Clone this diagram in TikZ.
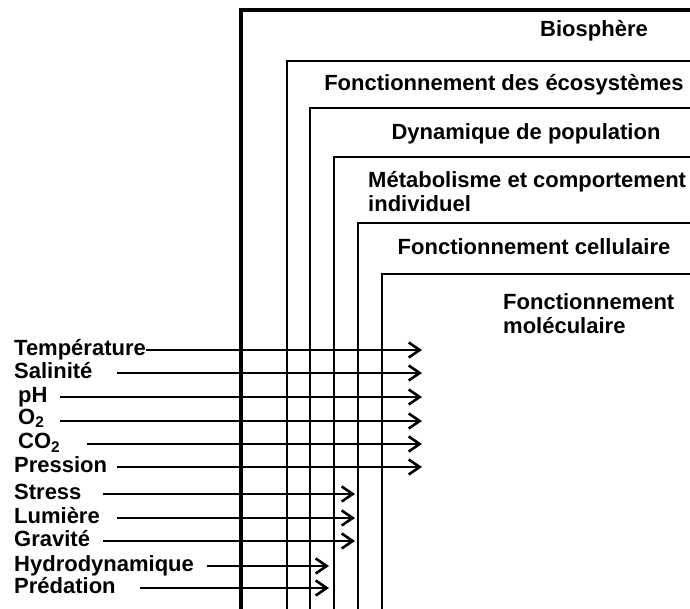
\documentclass[tikz,border=0pt]{standalone}
\usepackage{fontspec}
\setmainfont{Liberation Sans}
\usetikzlibrary{arrows.meta}
\begin{document}
\begin{tikzpicture}[x=1pt,y=-1pt,
  txt/.style={font=\fontsize{22}{24.5}\selectfont\bfseries, inner sep=0pt},
  lbl/.style={txt, anchor=base west},
  ttl/.style={txt, anchor=base},
  frame/.style={line width=1.8pt},
  thickframe/.style={line width=4.5pt},
  arr/.style={line width=2.6pt, -{Straight Barb[length=11pt,width=15pt]}}]
\useasboundingbox (0,0) rectangle (690,609);
\clip (0,0) rectangle (690,609);
% nested levels
\draw[thickframe] (241,640) -- (241,10) -- (720,10);
\draw[frame] (287,640) -- (287,61) -- (720,61);
\draw[frame] (310,640) -- (310,108) -- (720,108);
\draw[frame] (334,640) -- (334,157) -- (720,157);
\draw[frame] (358,640) -- (358,223) -- (720,223);
\draw[frame] (382,640) -- (382,274) -- (720,274);
% level titles
\node[ttl] (bio) at (594,37) {Biosphère};
\node[ttl] (eco) at (504,91) {Fonctionnement des écosystèmes};
\node[ttl] (pop) at (526,140) {Dynamique de population};
\node[lbl, align=left] (meta) at (368,212) {Métabolisme et comportement\\individuel};
\node[ttl] (cel) at (534,255) {Fonctionnement cellulaire};
\node[lbl, align=left] (mol) at (503,334) {Fonctionnement\\moléculaire};
% factors
\node[lbl] (l1) at (14,355.5) {Température};
\node[lbl] (l2) at (14,378.5) {Salinité};
\node[lbl] (l3) at (18,402) {pH};
\node[lbl] (l4) at (18,424) {O\textsubscript{2}};
\node[lbl] (l5) at (18,448.5) {CO\textsubscript{2}};
\node[lbl] (l6) at (14,472.5) {Pression};
\node[lbl] (l7) at (14,499.5) {Stress};
\node[lbl] (l8) at (14,523.5) {Lumière};
\node[lbl] (l9) at (14,546.5) {Gravité};
\node[lbl] (l10) at (14,571.5) {Hydrodynamique};
\node[lbl] (l11) at (14,593.5) {Prédation};
% arrow start and end points
\coordinate (s1) at (l1.east |- 0,350);
\coordinate (s2) at (117,373);
\coordinate (s3) at (60,397);
\coordinate (s4) at (60,421);
\coordinate (s5) at (87,444);
\coordinate (s6) at (117,467);
\coordinate (s7) at (103,494);
\coordinate (s8) at (117,518);
\coordinate (s9) at (103,541);
\coordinate (s10) at (207,566);
\coordinate (s11) at (140,588);
\coordinate (e1) at (422,350);
\coordinate (e2) at (422,373);
\coordinate (e3) at (422,397);
\coordinate (e4) at (422,421);
\coordinate (e5) at (422,444);
\coordinate (e6) at (422,467);
\coordinate (e7) at (355,494);
\coordinate (e8) at (355,518);
\coordinate (e9) at (355,541);
\coordinate (e10) at (329,566);
\coordinate (e11) at (329,588);
\foreach \i in {1,...,11} {\draw[arr] (s\i) -- (e\i);}
\end{tikzpicture}
\end{document}
